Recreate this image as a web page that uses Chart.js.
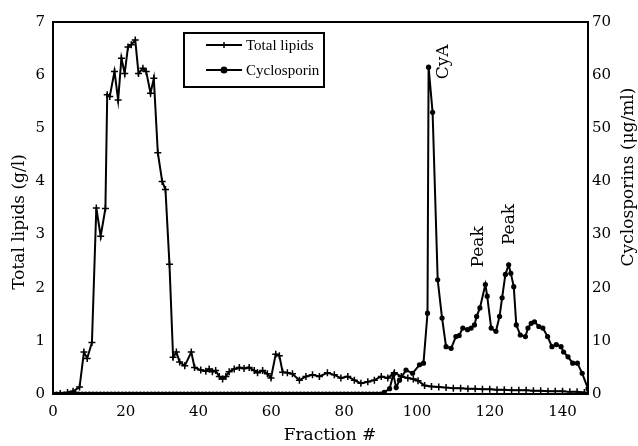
<!DOCTYPE html>
<html>
<head>
<meta charset="utf-8">
<script src="https://cdn.jsdelivr.net/npm/chart.js@4/dist/chart.umd.min.js"></script>
<style>
  html, body { margin: 0; padding: 0; background: #fff; }
  #wrap { width: 638px; height: 446px; }
</style>
</head>
<body>
<div id="wrap"><canvas id="fractions" width="638" height="446"></canvas></div>
<script>
// Total lipids (g/l) by fraction number
const lipidFrac = [0, 2, 4, 5.5, 7.3, 8.5, 9.4, 10.7, 11.9, 13.1, 14.4, 14.9, 15.6, 16.9, 17.9, 18.8, 19.7, 20.6, 21.5, 22.6,
  23.5, 24.7, 25.6, 26.8, 27.7, 28.8, 30.0, 30.9, 32.0, 33.0, 33.9, 34.8, 36.2, 38.0, 38.9, 40.6, 42.0, 42.9, 43.8, 44.7,
  45.7, 46.6, 47.5, 48.4, 49.8, 51.2, 52.5, 53.9, 55.3, 56.2, 57.6, 58.9, 59.9, 61.2, 62.2, 63.1, 64.4, 65.8, 67.7, 69.5,
  71.3, 73.2, 75.4, 77.3, 79.1, 81.0, 82.8, 84.6, 86.5, 88.3, 90.2, 92.0, 93.8, 95.7, 97.5, 99.0, 100.3, 102.1, 104, 106,
  108, 110, 112, 114, 116, 118, 120, 122, 124, 126, 128, 130, 132, 134, 136, 138, 140, 142, 144, 146, 147];
const lipidVal = [0, 0.01, 0.03, 0.05, 0.13, 0.79, 0.67, 0.97, 3.5, 2.97, 3.49, 5.63, 5.6, 6.07, 5.53, 6.32, 6.03, 6.53, 6.57, 6.66,
  6.03, 6.13, 6.07, 5.66, 5.94, 4.54, 4.0, 3.85, 2.44, 0.69, 0.79, 0.6, 0.53, 0.79, 0.5, 0.45, 0.43, 0.47, 0.42, 0.44,
  0.33, 0.28, 0.33, 0.42, 0.47, 0.5, 0.48, 0.5, 0.44, 0.4, 0.44, 0.38, 0.3, 0.75, 0.72, 0.41, 0.4, 0.38, 0.26, 0.33,
  0.36, 0.33, 0.40, 0.36, 0.30, 0.33, 0.26, 0.20, 0.23, 0.26, 0.33, 0.30, 0.40, 0.33, 0.3, 0.28, 0.25, 0.16, 0.14, 0.13,
  0.12, 0.11, 0.11, 0.1, 0.1, 0.09, 0.09, 0.08, 0.08, 0.07, 0.07, 0.07, 0.06, 0.06, 0.05, 0.05, 0.05, 0.04, 0.04, 0.03, 0.02];

// Cyclosporins (ug/ml) by fraction number
const cycloFrac = [0, 1, 2, 3, 4, 5, 6, 7, 8, 9, 10, 11, 12, 13, 14, 15, 16, 17, 18, 19, 20, 21, 22, 23, 24, 25, 26, 27, 28, 29,
  30, 31, 32, 33, 34, 35, 36, 37, 38, 39, 40, 41, 42, 43, 44, 45, 46, 47, 48, 49, 50, 51, 52, 53, 54, 55, 56, 57, 58, 59,
  60, 61, 62, 63, 64, 65, 66, 67, 68, 69, 70, 71, 72, 73, 74, 75, 76, 77, 78, 79, 80, 81, 82, 83, 84, 85, 86, 87, 88, 89, 90,
  91, 92.5, 93.5, 94.3, 95.2, 97.0, 98.8, 100.7, 101.8, 102.9, 103.2, 104.3, 105.7, 106.9, 108.0, 109.4, 110.7, 111.6,
  112.6, 113.9, 114.9, 115.8, 116.4, 117.3, 118.8, 119.3, 120.4, 121.7, 122.7, 123.4, 124.3, 125.2, 125.8, 126.6, 127.3,
  128.4, 129.8, 130.5, 131.4, 132.3, 133.5, 134.6, 135.9, 137.1, 138.3, 139.6, 140.3, 141.5, 142.8, 144.1, 145.4, 147.0];
const cycloVal = [0, 0, 0, 0, 0, 0, 0, 0, 0, 0, 0, 0, 0, 0, 0, 0, 0, 0, 0, 0, 0, 0, 0, 0, 0, 0, 0, 0, 0, 0,
  0, 0, 0, 0, 0, 0, 0, 0, 0, 0, 0, 0, 0, 0, 0, 0, 0, 0, 0, 0, 0, 0, 0, 0, 0, 0, 0, 0, 0, 0,
  0, 0, 0, 0, 0, 0, 0, 0, 0, 0, 0, 0, 0, 0, 0, 0, 0, 0, 0, 0, 0, 0, 0, 0, 0, 0, 0, 0, 0, 0, 0,
  0.3, 1.0, 3.7, 1.2, 2.6, 4.5, 3.9, 5.5, 5.8, 15.2, 61.5, 53.0, 21.5, 14.3, 8.9, 8.6, 10.8, 11.0,
  12.4, 12.1, 12.4, 13.0, 14.6, 16.2, 20.6, 18.4, 12.4, 11.8, 14.6, 18.1, 22.5, 24.3, 22.7, 20.2, 13.0,
  11.1, 10.8, 12.4, 13.3, 13.6, 12.7, 12.4, 10.8, 8.9, 9.3, 8.9, 7.9, 7.0, 5.8, 5.8, 3.9, 1.0];

// peak labels, placed in fraction / cyclosporin units
const noteText = ['CyA', 'Peak', 'Peak'];
const noteFrac = [107.2, 117.0, 125.4];
const noteLevel = [62.5, 27.7, 31.9];

const serif = "'DejaVu Serif', serif";
const legendSerif = "'Liberation Serif', serif";

function pts(xs, ys) {
  return xs.map((x, i) => ({ x: x, y: ys[i] }));
}

// frame, legend, rotated titles and peak notes
const decor = {
  id: 'decor',
  afterDraw(chart) {
    const { ctx, chartArea: a, scales } = chart;
    ctx.save();
    ctx.strokeStyle = '#000';
    ctx.fillStyle = '#000';
    ctx.lineWidth = 2;
    ctx.strokeRect(a.left, a.top, a.right - a.left, a.bottom - a.top);

    // legend box
    ctx.strokeRect(184, 33, 140, 54);
    ctx.font = '15px ' + legendSerif;
    ctx.textBaseline = 'middle';
    ctx.textAlign = 'left';
    const rows = [45, 70];
    rows.forEach((y, i) => {
      ctx.lineWidth = 2;
      ctx.beginPath();
      ctx.moveTo(206, y);
      ctx.lineTo(242, y);
      ctx.stroke();
      if (i === 0) {
        ctx.lineWidth = 1.5;
        ctx.beginPath();
        ctx.moveTo(224, y - 3); ctx.lineTo(224, y + 3);
        ctx.moveTo(221, y); ctx.lineTo(227, y);
        ctx.stroke();
      } else {
        ctx.beginPath();
        ctx.arc(224, y, 3.5, 0, Math.PI * 2);
        ctx.fill();
      }
      ctx.fillText(chart.data.datasets[i].label, 246, y + 1);
    });

    // axis titles
    ctx.font = '17px ' + serif;
    ctx.textAlign = 'center';
    ctx.textBaseline = 'middle';
    ctx.fillText('Fraction #', 330, 436);
    ctx.save();
    ctx.translate(20, 222);
    ctx.rotate(-Math.PI / 2);
    ctx.fillText('Total lipids (g/l)', 0, 0);
    ctx.restore();
    ctx.save();
    ctx.translate(629, 177);
    ctx.rotate(-Math.PI / 2);
    ctx.fillText('Cyclosporins (\u03bcg/ml)', 0, 0);
    ctx.restore();

    // notes over the peaks
    ctx.font = '17px ' + serif;
    noteText.forEach((t, i) => {
      const px = scales.x.getPixelForValue(noteFrac[i]);
      const py = scales.y2.getPixelForValue(noteLevel[i]);
      ctx.save();
      ctx.translate(px, py);
      ctx.rotate(-Math.PI / 2);
      ctx.fillText(t, 0, 0);
      ctx.restore();
    });
    ctx.restore();
  }
};

const tickFont = { family: serif, size: 15 };

new Chart(document.getElementById('fractions').getContext('2d'), {
  type: 'line',
  data: {
    datasets: [
      {
        label: 'Total lipids',
        data: pts(lipidFrac, lipidVal),
        yAxisID: 'y',
        borderColor: '#000',
        backgroundColor: '#000',
        borderWidth: 2,
        pointStyle: 'cross',
        pointRadius: 3.5,
        pointBorderWidth: 1.5,
        tension: 0,
      },
      {
        label: 'Cyclosporin',
        data: pts(cycloFrac, cycloVal),
        yAxisID: 'y2',
        borderColor: '#000',
        backgroundColor: '#000',
        borderWidth: 2,
        pointStyle: 'circle',
        pointRadius: 2.6,
        pointBorderWidth: 0,
        tension: 0,
      },
    ],
  },
  options: {
    responsive: false,
    animation: false,
    events: [],
    layout: { padding: { top: 22, left: 0, right: 0, bottom: 0 } },
    plugins: { legend: { display: false }, tooltip: { enabled: false } },
    scales: {
      x: {
        type: 'linear',
        min: 0,
        max: 147,
        grid: { display: false, drawTicks: false },
        border: { display: false },
        ticks: {
          stepSize: 20,
          includeBounds: false,
          padding: 9,
          color: '#000',
          font: tickFont,
          maxRotation: 0,
          callback: (v) => (v % 20 === 0 ? v : ''),
        },
        afterFit: (s) => { s.height = 52; },
      },
      y: {
        position: 'left',
        min: 0,
        max: 7,
        grid: { display: false, drawTicks: false },
        border: { display: false },
        ticks: { stepSize: 1, padding: 8, color: '#000', font: tickFont },
        afterFit: (s) => { s.width = 53; },
      },
      y2: {
        position: 'right',
        min: 0,
        max: 70,
        grid: { display: false, drawTicks: false },
        border: { display: false },
        ticks: { stepSize: 10, padding: 4, color: '#000', font: tickFont },
        afterFit: (s) => { s.width = 50; },
      },
    },
  },
  plugins: [decor],
});
</script>
</body>
</html>
